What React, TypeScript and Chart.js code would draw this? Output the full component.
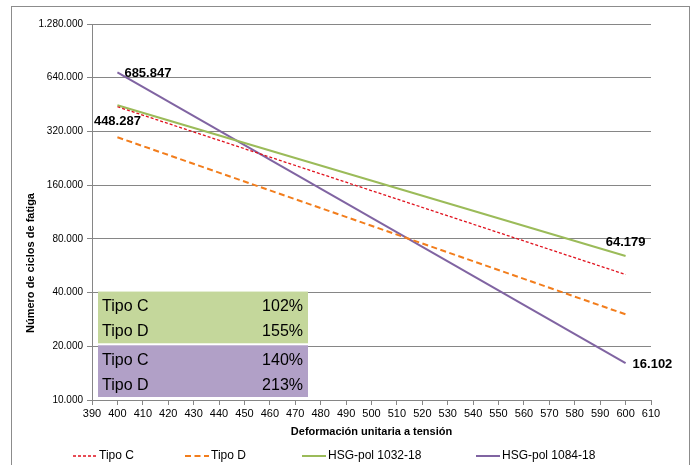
import React, { useEffect, useRef } from "react";
import { Chart, registerables } from "chart.js";

Chart.register(...registerables);

const xValues = [400, 600];
const tipoC = [440000, 50500];
const tipoD = [297000, 30200];
const hsg1032 = [448287, 64179];
const hsg1084 = [685847, 16102];
const seriesNames = ["Tipo C", "Tipo D", "HSG-pol 1032-18", "HSG-pol 1084-18"];
const xTicks = [390, 400, 410, 420, 430, 440, 450, 460, 470, 480, 490, 500, 510, 520, 530, 540, 550, 560, 570, 580, 590, 600, 610];
const yTicks = [10000, 20000, 40000, 80000, 160000, 320000, 640000, 1280000];
const tableLabels = ["Tipo C", "Tipo D", "Tipo C", "Tipo D"];
const tableValues = ["102%", "155%", "140%", "213%"];
const xTitle = "Deformación unitaria a tensión";
const yTitle = "Número de ciclos de fatiga";

const FONT = "'Liberation Sans', Arial, sans-serif";

const fmt = (v: number) =>
  String(Math.round(v)).replace(/\B(?=(\d{3})+(?!\d))/g, ".");

const framePlugin = {
  id: "frame",
  beforeDraw(chart: any) {
    const { ctx, width, height } = chart;
    ctx.save();
    ctx.fillStyle = "#ffffff";
    ctx.fillRect(0, 0, width, height);
    ctx.strokeStyle = "#8c8c8c";
    ctx.lineWidth = 1;
    ctx.strokeRect(11.5, 6.5, 678, height + 20);
    ctx.restore();
  },
  afterDraw(chart: any) {
    const { ctx } = chart;
    ctx.save();
    ctx.translate(31, 263);
    ctx.rotate(-Math.PI / 2);
    ctx.font = `bold 11px ${FONT}`;
    ctx.fillStyle = "#000000";
    ctx.textAlign = "center";
    ctx.textBaseline = "middle";
    ctx.fillText(yTitle, 0, 0);
    ctx.restore();
  },
};

// labels: [datasetIndex, pointIndex, placement]
const labelSpecs: [number, number, string][] = [
  [3, 0, "right"],
  [2, 0, "below"],
  [2, 1, "above"],
  [3, 1, "right"],
];

const valueLabelPlugin = {
  id: "valueLabels",
  afterDatasetsDraw(chart: any) {
    const { ctx } = chart;
    ctx.save();
    ctx.font = `bold 13px ${FONT}`;
    ctx.fillStyle = "#000000";
    for (const [di, pi, place] of labelSpecs) {
      const el = chart.getDatasetMeta(di).data[pi];
      const raw = chart.data.datasets[di].data[pi].y;
      const text = fmt(raw);
      let x = el.x;
      let y = el.y;
      ctx.textBaseline = "middle";
      if (place === "right") {
        ctx.textAlign = "left";
        x += 7;
        y += 1;
      } else if (place === "below") {
        ctx.textAlign = "center";
        y += 16;
      } else {
        ctx.textAlign = "center";
        y -= 14;
      }
      ctx.fillText(text, x, y);
    }
    ctx.restore();
  },
};

const tablePlugin = {
  id: "table",
  afterDraw(chart: any) {
    const { ctx, chartArea } = chart;
    const sy = chart.scales.y;
    const y40 = sy.getPixelForValue(yTicks[2]);
    const y20 = sy.getPixelForValue(yTicks[1]);
    const y10 = sy.getPixelForValue(yTicks[0]);
    const left = chartArea.left + 6;
    const width = 210;
    const boxes = [
      { top: y40 - 1, bottom: y20 - 3, color: "#c4d79b" },
      { top: y20 - 1, bottom: y10 - 3, color: "#b1a0c7" },
    ];
    ctx.save();
    boxes.forEach((b, bi) => {
      ctx.fillStyle = b.color;
      ctx.fillRect(left, b.top, width, b.bottom - b.top);
      ctx.font = `16px ${FONT}`;
      ctx.fillStyle = "#000000";
      ctx.textBaseline = "middle";
      for (let r = 0; r < 2; r++) {
        const idx = bi * 2 + r;
        const cy = b.top + 15 + r * 25;
        ctx.textAlign = "left";
        ctx.fillText(tableLabels[idx], left + 4, cy);
        ctx.textAlign = "right";
        ctx.fillText(tableValues[idx], left + width - 5, cy);
      }
    });
    ctx.restore();
  },
};

const legendX = [73, 185, 302, 476];
const legendPlugin = {
  id: "customLegend",
  afterDraw(chart: any) {
    const { ctx } = chart;
    const y = 456;
    ctx.save();
    chart.data.datasets.forEach((ds: any, i: number) => {
      const x0 = legendX[i];
      ctx.strokeStyle = ds.borderColor;
      ctx.lineWidth = ds.borderWidth;
      ctx.setLineDash(ds.borderDash || []);
      ctx.beginPath();
      ctx.moveTo(x0, y);
      ctx.lineTo(x0 + 24, y);
      ctx.stroke();
      ctx.setLineDash([]);
      ctx.font = `12px ${FONT}`;
      ctx.fillStyle = "#000000";
      ctx.textAlign = "left";
      ctx.textBaseline = "middle";
      ctx.fillText(ds.label, x0 + 26, y);
    });
    ctx.restore();
  },
};

export default function App() {
  const ref = useRef<HTMLCanvasElement | null>(null);

  useEffect(() => {
    if (!ref.current) return;
    const mk = (arr: number[]) => xValues.map((x, i) => ({ x, y: arr[i] }));
    const chart = new Chart(ref.current, {
      type: "line",
      data: {
        datasets: [
          {
            label: seriesNames[0],
            data: mk(tipoC),
            borderColor: "#e0121e",
            borderWidth: 1.3,
            borderDash: [3, 2],
            pointRadius: 0,
            fill: false,
          },
          {
            label: seriesNames[1],
            data: mk(tipoD),
            borderColor: "#f27d1c",
            borderWidth: 2,
            borderDash: [6, 3.5],
            pointRadius: 0,
            fill: false,
          },
          {
            label: seriesNames[2],
            data: mk(hsg1032),
            borderColor: "#9bbb59",
            borderWidth: 2,
            pointRadius: 0,
            fill: false,
          },
          {
            label: seriesNames[3],
            data: mk(hsg1084),
            borderColor: "#8064a2",
            borderWidth: 2,
            pointRadius: 0,
            fill: false,
          },
        ],
      },
      options: {
        animation: false,
        responsive: true,
        maintainAspectRatio: false,
        layout: { padding: { top: 24, right: 48, left: 0, bottom: 0 } },
        plugins: {
          legend: { display: false },
          tooltip: { enabled: false },
        },
        scales: {
          x: {
            type: "linear",
            min: 390,
            max: 610,
            afterBuildTicks: (s: any) => {
              s.ticks = xTicks.map((v) => ({ value: v }));
            },
            afterFit: (s: any) => {
              s.height = 65;
            },
            ticks: {
              autoSkip: false,
              maxRotation: 0,
              padding: 2,
              color: "#000000",
              font: { family: FONT, size: 11 },
            },
            grid: {
              drawOnChartArea: false,
              drawTicks: true,
              tickLength: 5,
              color: "#868686",
            },
            border: { color: "#868686" },
            title: {
              display: true,
              text: xTitle,
              color: "#000000",
              font: { family: FONT, size: 11, weight: "bold" },
              padding: { top: 0, bottom: 26 },
            },
          },
          y: {
            type: "logarithmic",
            min: 10000,
            max: 1280000,
            afterBuildTicks: (s: any) => {
              s.ticks = yTicks.map((v) => ({ value: v }));
            },
            afterFit: (s: any) => {
              s.width = 92;
            },
            ticks: {
              padding: 4,
              color: "#000000",
              font: { family: FONT, size: 10 },
              callback: (v: any) => fmt(Number(v)),
            },
            grid: {
              color: "#868686",
              tickLength: 5,
            },
            border: { color: "#868686" },
            title: { display: false },
          },
        },
      },
      plugins: [framePlugin, valueLabelPlugin, tablePlugin, legendPlugin],
    });
    return () => chart.destroy();
  }, []);

  return (
    <div style={{ position: "absolute", left: 0, top: 0, width: 699, height: 465 }}>
      <canvas ref={ref} />
    </div>
  );
}
